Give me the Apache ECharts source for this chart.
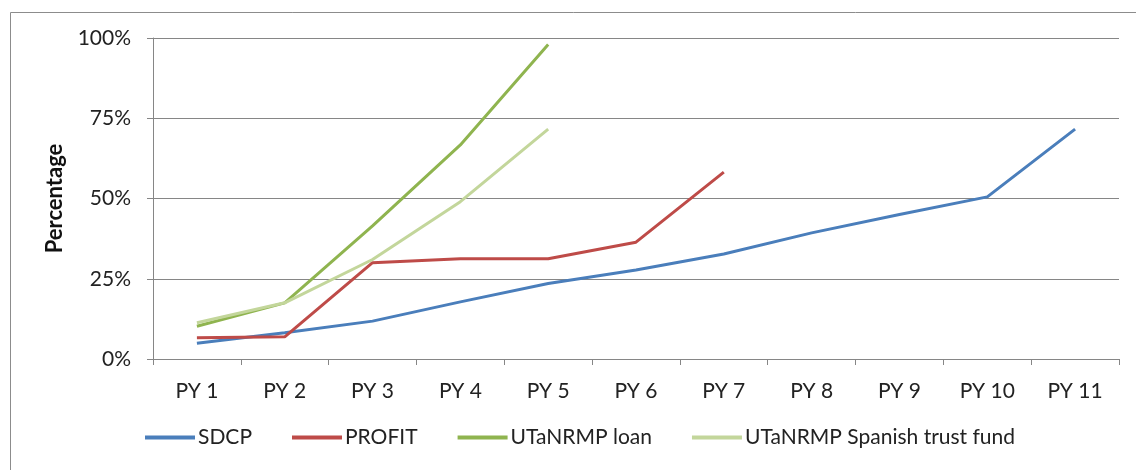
<!DOCTYPE html>
<html>
<head>
<meta charset="utf-8">
<script src="https://cdn.jsdelivr.net/npm/echarts@6/dist/echarts.min.js"></script>
<style>
    html, body { margin: 0; padding: 0; background: #fff; }
    #chartLine { width: 1136px; height: 470px; }
</style>
</head>
<body>
<div id="chartLine"></div>
<script>
// 카테고리 / 데이터
const years = ['PY 1', 'PY 2', 'PY 3', 'PY 4', 'PY 5', 'PY 6', 'PY 7', 'PY 8', 'PY 9', 'PY 10', 'PY 11'];
const sdcp = [4.9, 8.2, 11.8, 17.8, 23.5, 27.7, 32.7, 39.3, 45, 50.5, 71.6];
const profit = [6.6, 6.9, 30, 31.2, 31.2, 36.4, 58.2];
const loan = [10.2, 17.5, 41.5, 66.7, 98];
const spanish = [11.3, 17.5, 31, 49, 71.6];
const yTicks = [0, 25, 50, 75, 100];

const chartDom = document.getElementById('chartLine');
const lineChart = echarts.init(chartDom);

const font = 'Lato, "Open Sans", sans-serif';

function lineSeries(name, data, color) {
    return {
        name: name,
        type: 'line',
        data: data,
        showSymbol: false,
        symbol: 'none',
        lineStyle: { color: color, width: 3 },
        itemStyle: { color: color },
    };
}

const option = {
    animation: false,
    textStyle: { fontFamily: font },
    graphic: [
        {
            type: 'rect',
            shape: { x: 10.5, y: 12.5, width: 1140, height: 480 },
            style: { fill: 'none', stroke: '#8c8c8c', lineWidth: 1 },
        },
    ],
    grid: {
        left: 153,
        right: 17,
        top: 38,
        bottom: 111,
        containLabel: false,
    },
    legend: {
        bottom: 17,
        left: 140,
        icon: 'rect',
        itemWidth: 50,
        itemHeight: 4,
        itemGap: 40,
        textStyle: { fontFamily: font, fontSize: 21, color: '#222', padding: [0, 0, 0, -2] },
        data: ['SDCP', 'PROFIT', 'UTaNRMP loan', 'UTaNRMP Spanish trust fund'],
    },
    xAxis: {
        type: 'category',
        data: years,
        boundaryGap: true,
        axisLine: { show: true, lineStyle: { color: '#868686', width: 1 } },
        axisTick: { show: true, length: 6, lineStyle: { color: '#868686' } },
        axisLabel: { fontSize: 21, color: '#222', margin: 22, fontFamily: font },
    },
    yAxis: {
        type: 'value',
        min: yTicks[0],
        max: yTicks[yTicks.length - 1],
        interval: 25,
        name: 'Percentage',
        nameLocation: 'middle',
        nameGap: 87,
        nameTextStyle: { fontSize: 22, fontWeight: 'bold', color: '#111', fontFamily: font },
        axisLine: { show: true, lineStyle: { color: '#868686', width: 1 } },
        axisTick: { show: true, length: 6, lineStyle: { color: '#868686' } },
        axisLabel: {
            fontSize: 21,
            color: '#222',
            margin: 22,
            fontFamily: font,
            formatter: (v) => v + '%',
        },
        splitLine: { show: true, lineStyle: { color: '#868686', width: 1 } },
    },
    series: [
        lineSeries('SDCP', sdcp, '#4a7ebb'),
        lineSeries('PROFIT', profit, '#be4b48'),
        lineSeries('UTaNRMP loan', loan, '#8fb44f'),
        lineSeries('UTaNRMP Spanish trust fund', spanish, '#c3d69b'),
    ],
};

lineChart.setOption(option);
</script>
</body>
</html>
